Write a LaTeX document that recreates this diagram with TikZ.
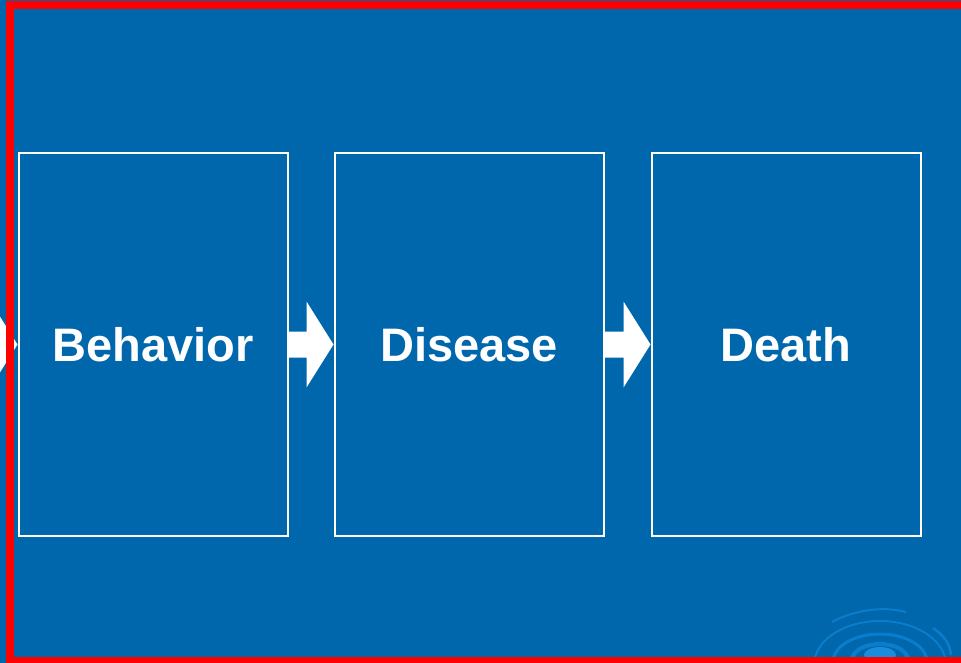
\documentclass[tikz,border=0pt]{standalone}
\usepackage{fontspec}
\setmainfont{Liberation Sans}
\usetikzlibrary{calc}
\definecolor{bgblue}{RGB}{0,103,172}
\definecolor{ripple}{RGB}{10,125,205}
\definecolor{ripplecore}{RGB}{25,140,220}
\definecolor{frame}{RGB}{255,0,0}
\tikzset{
  stagebox/.style={draw=white, line width=2pt, minimum width=269pt, minimum height=382pt, inner sep=0pt,
    text=white, font=\fontsize{47}{56}\selectfont\bfseries},
  blockarrow/.style={fill=white, draw=none},
  ringline/.style={draw=ripple, line width=2.5pt},
}
\begin{document}
\begin{tikzpicture}[x=1pt,y=-1pt]
\useasboundingbox (0,0) rectangle (961,663);
\fill[bgblue] (0,0) rectangle (961,663);
% ripple decoration
\begin{scope}
\clip (780,580) rectangle (961,663);
\fill[ripplecore] (880,655) ellipse (16 and 8);
\draw[ringline, line width=4pt] (880,660) ellipse (28 and 16);
\draw[ringline, line width=3pt] (880,662) ellipse (47 and 28);
\draw[ringline, line width=2pt] (880,665) ellipse (66 and 44);
\draw[ripple, line width=2pt] (832,622) .. controls (850,612) and (880,605) .. (906,612);
\draw[ripple, line width=2.5pt] (933,628) .. controls (945,636) and (950,645) .. (951,655);
\end{scope}
% boxes
\node[stagebox] (b1) at (153,344.5) {\raisebox{-1.5pt}{Behavior}};
\node[stagebox] (b2) at (469,344.5) {\raisebox{-1.5pt}{Disease}};
\node[stagebox] (b3) at (786,344.5) {\raisebox{-1.5pt}{Death}};
% left partial arrow
\coordinate (lt) at (b1.west);
\fill[blockarrow] (lt) -- ($(lt)+(-27,-43)$) -- ($(lt)+(-27,-13)$) -- ($(lt)+(-60,-13)$) -- ($(lt)+(-60,13)$) -- ($(lt)+(-27,13)$) -- ($(lt)+(-27,43)$) -- cycle;
% block arrows
\fill[blockarrow] (b2.west) -- ($(b2.west)+(-27,-43)$) -- ($(b2.west)+(-27,-13)$) -- ($(b1.east)+(0,-13)$) -- ($(b1.east)+(0,13)$) -- ($(b2.west)+(-27,13)$) -- ($(b2.west)+(-27,43)$) -- cycle;
\fill[blockarrow] (b3.west) -- ($(b3.west)+(-27,-43)$) -- ($(b3.west)+(-27,-13)$) -- ($(b2.east)+(0,-13)$) -- ($(b2.east)+(0,13)$) -- ($(b3.west)+(-27,13)$) -- ($(b3.west)+(-27,43)$) -- cycle;
% red frame
\draw[frame, line width=8pt] (10,5) -- (970,5);
\draw[frame, line width=8pt] (10,1) -- (10,661) -- (970,661);
\end{tikzpicture}
\end{document}
